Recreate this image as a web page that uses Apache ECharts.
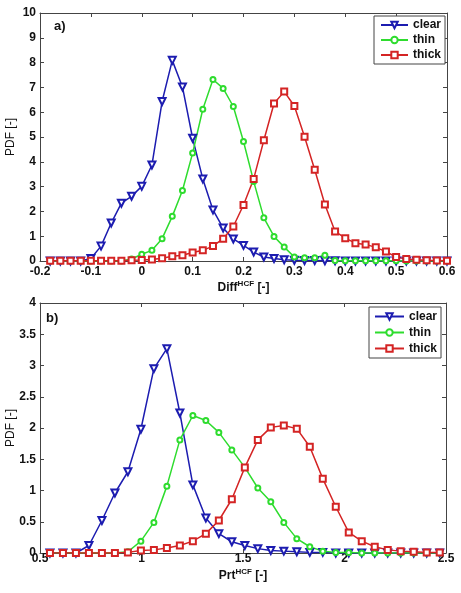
<!DOCTYPE html>
<html>
<head>
<meta charset="utf-8">
<script src="https://cdn.jsdelivr.net/npm/echarts@6/dist/echarts.min.js"></script>
<style>
html,body{margin:0;padding:0;background:#fff;}
#chart{width:461px;height:593px;}
</style>
</head>
<body>
<div id="chart"></div>
<script>
// ---- Panel a) : Diff^HCF ----
const diffX = [-0.18,-0.16,-0.14,-0.12,-0.10,-0.08,-0.06,-0.04,-0.02,0.00,
  0.02,0.04,0.06,0.08,0.10,0.12,0.14,0.16,0.18,0.20,
  0.22,0.24,0.26,0.28,0.30,0.32,0.34,0.36,0.38,0.40,
  0.42,0.44,0.46,0.48,0.50,0.52,0.54,0.56,0.58,0.60];
const diffClear = [0,0,0,0,0.10,0.60,1.53,2.33,2.61,3.01,
  3.87,6.43,8.09,7.02,4.95,3.31,2.06,1.33,0.89,0.63,
  0.36,0.16,0.10,0.05,0.03,0.02,0.02,0.01,0.01,0,
  0,0,0,0,0,0,0,0,0,0];
const diffThin = [0,0,0,0,0,0,0,0,0.08,0.27,
  0.43,0.90,1.80,2.84,4.35,6.12,7.32,6.96,6.23,4.82,
  3.21,1.74,0.99,0.56,0.16,0.13,0.13,0.23,0.02,0.01,
  0.01,0.01,0.01,0.01,0.01,0,0,0,0,0];
const diffThick = [0.01,0.01,0.01,0.01,0.01,0.01,0.01,0.01,0.03,0.04,
  0.06,0.11,0.19,0.23,0.34,0.43,0.60,0.90,1.39,2.26,
  3.31,4.87,6.35,6.83,6.25,5.01,3.68,2.28,1.19,0.92,
  0.72,0.67,0.55,0.38,0.16,0.08,0.05,0.03,0.02,0.01];

// ---- Panel b) : Prt^HCF ----
const prtX = [0.549,0.613,0.677,0.741,0.805,0.869,0.933,0.997,1.061,1.125,
  1.189,1.253,1.317,1.381,1.445,1.509,1.573,1.637,1.701,1.765,
  1.829,1.893,1.957,2.021,2.085,2.149,2.213,2.277,2.341,2.405,2.469];
const prtClear = [0,0,0,0.12,0.52,0.96,1.30,1.98,2.95,3.27,
  2.24,1.09,0.56,0.31,0.18,0.12,0.07,0.04,0.03,0.02,
  0.01,0.01,0,0,0,0,0,0,0,0,0];
const prtThin = [0,0,0,0,0,0,0.02,0.19,0.49,1.07,
  1.81,2.20,2.12,1.93,1.65,1.37,1.04,0.82,0.49,0.23,
  0.10,0.03,0.01,0.01,0,0,0,0,0,0,0];
const prtThick = [0,0,0,0,0,0,0.01,0.04,0.05,0.08,
  0.12,0.19,0.31,0.52,0.86,1.37,1.81,2.01,2.04,1.99,
  1.70,1.19,0.74,0.33,0.19,0.10,0.05,0.03,0.02,0.01,0.01];

const seriesNames = ['clear','thin','thick'];
const diffTicks = {min:-0.2, max:0.6, interval:0.1};
const prtTicks = {min:0.5, max:2.5, interval:0.5};
const pdfTicksA = {min:0, max:10, interval:1};
const pdfTicksB = {min:0, max:4, interval:0.5};

const FONT = "'Liberation Sans', Arial, sans-serif";
const AX = '#444';
const colors = {clear:'#1c1cb0', thin:'#2edc2e', thick:'#d42424'};
const symbols = {clear:'emptyTriangle', thin:'emptyCircle', thick:'emptyRect'};
const symRot = {clear:180, thin:0, thick:0};
const symSize = {clear:7, thin:5, thick:6};

function pair(xs, ys){ return xs.map((x,i)=>[x, ys[i]]); }

function xAx(grid, t, pos, show, name, margin, gap){
  return {
    type:'value', gridIndex:grid, position:pos, min:t.min, max:t.max, interval:t.interval,
    axisLine:{show:true, onZero:false, lineStyle:{color:AX, width:1}},
    axisTick:{show:true, inside:true, length:4, lineStyle:{color:AX}},
    axisLabel:{show:show, color:'#111', fontFamily:FONT, fontSize:12, fontWeight:'bold', margin:margin||0,
      hideOverlap:false},
    splitLine:{show:false},
    name: name || '', nameLocation:'middle', nameGap:gap||15, nameMoveOverlap:false,
    nameTextStyle:{color:'#111', fontFamily:FONT, fontSize:12, fontWeight:'bold',
      rich:{b:{fontFamily:FONT, fontSize:12, fontWeight:'bold', color:'#111'},
            s:{fontFamily:FONT, fontSize:8, color:'#111', padding:[0,0,8,0]}}}
  };
}
function yAx(grid, t, pos, show){
  return {
    type:'value', gridIndex:grid, position:pos, min:t.min, max:t.max, interval:t.interval,
    axisLine:{show:true, onZero:false, lineStyle:{color:AX, width:1}},
    axisTick:{show:true, inside:true, length:4, lineStyle:{color:AX}},
    axisLabel:{show:show, color:'#111', fontFamily:FONT, fontSize:12, fontWeight:'bold', margin:4,
      hideOverlap:false},
    splitLine:{show:false},
    name: show ? 'PDF [-]' : '', nameLocation:'middle', nameGap:23, nameMoveOverlap:false,
    nameTextStyle:{color:'#111', fontFamily:FONT, fontSize:12}
  };
}

function mkSeries(name, xs, ys, xi, yi){
  return {
    name:name, type:'line', xAxisIndex:xi, yAxisIndex:yi,
    data: pair(xs, ys),
    symbol: symbols[name], symbolRotate: symRot[name], symbolSize: symSize[name],
    showAllSymbol:true,
    lineStyle:{color:colors[name], width:1.5},
    itemStyle:{color:colors[name], borderColor:colors[name], borderWidth:1},
    animation:false, silent:true
  };
}

function legend(left, top, lh, pad, iw){
  return {
    orient:'vertical', left:left, top:top, data:seriesNames,
    itemWidth:iw, itemHeight:8, itemGap:1, padding:pad,
    borderColor:AX, borderWidth:1, backgroundColor:'#fff', borderRadius:0,
    textStyle:{fontFamily:FONT, fontSize:12, fontWeight:'bold', color:'#111', lineHeight:lh},
    selectedMode:false
  };
}

const chart = echarts.init(document.getElementById('chart'), null, {renderer:'canvas'});
chart.setOption({
  animation:false,
  backgroundColor:'#fff',
  grid:[
    {left:40, right:14, top:13, height:248, containLabel:false, outerBoundsMode:'none'},
    {left:40, right:15, top:303, height:250, containLabel:false, outerBoundsMode:'none'}
  ],
  xAxis:[
    xAx(0, diffTicks, 'bottom', true, '{b|Diff}{s|HCF}{b| [-]}', 5, 19),
    xAx(0, diffTicks, 'top', false),
    xAx(1, prtTicks, 'bottom', true, '{b|Prt}{s|HCF}{b| [-]}', 0, 15),
    xAx(1, prtTicks, 'top', false)
  ],
  yAxis:[
    yAx(0, pdfTicksA, 'left', true),
    yAx(0, pdfTicksA, 'right', false),
    yAx(1, pdfTicksB, 'left', true),
    yAx(1, pdfTicksB, 'right', false)
  ],
  legend:[
    legend(374, 16, 14, [2,4,2,6], 27),
    legend(369, 307, 15, [2,4,2,5], 29)
  ],
  graphic:[
    {type:'text', left:54, top:20, style:{text:'a)', font:'bold 13px '+FONT, fill:'#111'}},
    {type:'text', left:46, top:312, style:{text:'b)', font:'bold 13px '+FONT, fill:'#111'}}
  ],
  series:[
    mkSeries('clear', diffX, diffClear, 0, 0),
    mkSeries('thin', diffX, diffThin, 0, 0),
    mkSeries('thick', diffX, diffThick, 0, 0),
    mkSeries('clear', prtX, prtClear, 2, 2),
    mkSeries('thin', prtX, prtThin, 2, 2),
    mkSeries('thick', prtX, prtThick, 2, 2)
  ]
});
</script>
</body>
</html>
